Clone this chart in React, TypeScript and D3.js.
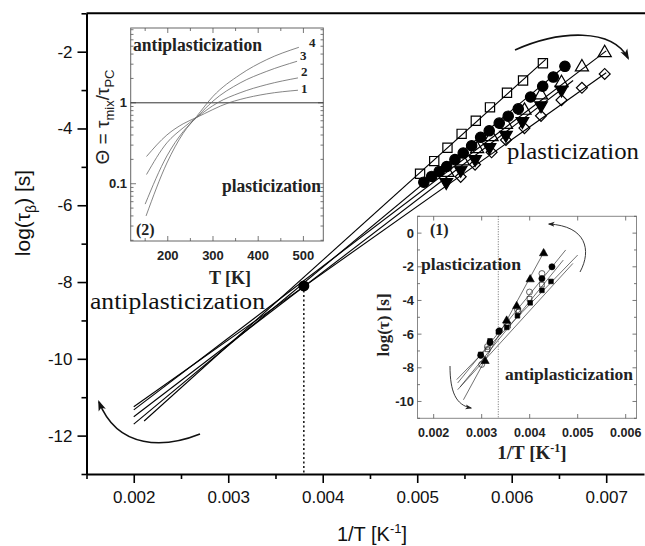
import React, { useEffect, useRef } from "react";
import * as d3 from "d3";

// ---------- main panel: log(tau_beta) vs 1/T ----------
const mainXTicks = [0.002, 0.003, 0.004, 0.005, 0.006, 0.007];
const mainXMinor = [0.0015, 0.0025, 0.0035, 0.0045, 0.0055, 0.0065];
const mainYTicks = [-2, -4, -6, -8, -10, -12];
const mainYMinor = [-1, -3, -5, -7, -9, -11, -13];

const sqX = [0.00503, 0.00518, 0.00532, 0.00547, 0.00562, 0.00577, 0.00595, 0.00612, 0.00633];
const sqY = [-5.18, -4.85, -4.5, -4.14, -3.8, -3.45, -3.07, -2.75, -2.3];

const circX = [0.00507, 0.005153, 0.005233, 0.005312, 0.005399, 0.005487, 0.005576, 0.005671,
  0.005762, 0.005868, 0.005963, 0.006069, 0.0062, 0.006328, 0.00644, 0.006563];
const circY = [-5.4, -5.25, -5.12, -4.99, -4.81, -4.64, -4.45, -4.23, -4.06, -3.86, -3.68, -3.49,
  -3.18, -2.9, -2.66, -2.38];

const triX = [0.00532, 0.005482, 0.005634, 0.005787, 0.005939, 0.006135, 0.00631, 0.006527, 0.006743, 0.006984];
const triY = [-5.15, -4.85, -4.53, -4.22, -3.9, -3.53, -3.13, -2.81, -2.4, -2.03];

const dtriX = [0.005307, 0.00546, 0.005612, 0.005765, 0.005939, 0.006113, 0.00631, 0.006527];
const dtriY = [-5.4, -5.08, -4.8, -4.49, -4.17, -3.81, -3.4, -2.99];

const diaX = [0.00546, 0.005612, 0.005787, 0.005939, 0.006135, 0.00631, 0.006527, 0.006743, 0.006984];
const diaY = [-5.26, -4.94, -4.62, -4.3, -3.99, -3.67, -3.26, -2.94, -2.58];

// fitted straight lines (squares, circles, up-tri, down-tri, diamonds)
const fitX0 = [0.00211, 0.002, 0.002, 0.002, 0.002];
const fitY0 = [-11.62, -11.7, -11.33, -11.51, -11.25];
const fitX1 = [0.00636, 0.0066, 0.007, 0.00665, 0.007];
const fitY1 = [-2.2, -2.3, -1.98, -2.75, -2.55];

const crossX = 0.0038;
const crossY = -8.1;

// ---------- inset (2): Theta vs T ----------
const thXTicks = [200, 300, 400, 500];
const thXMinor = [150, 250, 350, 450];
const thYTicks = [0.1, 1];
const thYMinor = [0.02, 0.03, 0.04, 0.05, 0.06, 0.07, 0.08, 0.09, 0.2, 0.3, 0.4, 0.5, 0.6, 0.7, 0.8, 0.9, 2, 3, 4, 5, 6, 7, 8];
const thCurveT = [
  [153, 198, 234, 264, 335, 360, 419, 488],
  [153, 198, 234, 264, 310, 360, 419, 488],
  [150, 198, 234, 264, 300, 360, 419, 486],
  [152, 198, 234, 264, 300, 360, 419, 490],
];
const thCurveV = [
  [0.217, 0.4, 0.55, 0.66, 1.0, 1.1, 1.29, 1.43],
  [0.13, 0.32, 0.49, 0.66, 1.0, 1.33, 1.68, 2.03],
  [0.056, 0.22, 0.44, 0.66, 1.05, 1.76, 2.45, 3.26],
  [0.04, 0.18, 0.42, 0.68, 1.2, 2.23, 3.42, 4.85],
];
const thCurveNames = ["1", "2", "3", "4"];

// ---------- inset (1): log(tau) vs 1/T ----------
const i1XTicks = [0.002, 0.003, 0.004, 0.005, 0.006];
const i1YTicks = [0, -2, -4, -6, -8, -10];
const i1YMinor = [1, -1, -3, -5, -7, -9, -11];
const i1LineX0 = [0.00262, 0.00255, 0.0025, 0.00248, 0.0025];
const i1LineY0 = [-9.9, -9.14, -8.9, -8.7, -9.3];
const i1LineX1 = [0.00432, 0.0047, 0.00475, 0.005, 0.0049];
const i1LineY1 = [-1.0, -1.6, -1.0, -1.3, -1.8];
const i1TriX = [0.00307, 0.00352, 0.00373, 0.00401, 0.00429];
const i1TriY = [-7.6, -5.2, -4.34, -2.75, -1.2];
const i1OcX = [0.003, 0.00312, 0.00352, 0.003745, 0.003996, 0.004255];
const i1OcY = [-7.8, -6.74, -5.34, -4.55, -3.5, -2.4];
const i1FcX = [0.00298, 0.003174, 0.003368, 0.004255, 0.004464];
const i1FcY = [-7.26, -6.5, -5.8, -2.7, -2.0];
const i1FsX = [0.00298, 0.003174, 0.003347, 0.003523, 0.003745, 0.00401, 0.004255, 0.004444];
const i1FsY = [-7.2, -6.4, -5.87, -5.6, -4.91, -4.14, -3.4, -2.87];
const i1OsX = [0.00312, 0.00355, 0.003766, 0.003996, 0.004255];
const i1OsY = [-6.9, -5.5, -4.67, -3.9, -3.06];
const i1Divider = 0.003346;

const SANS = "'Liberation Sans', Arial, sans-serif";
const SERIF = "'Liberation Serif', 'Times New Roman', serif";

function addSeries(g, xs, ys, sx, sy, type, size, filled, rot = 0, sw = 1.2) {
  g.selectAll(null)
    .data(xs.map((v, i) => [v, ys[i]]))
    .enter()
    .append("path")
    .attr("d", d3.symbol().type(type).size(size))
    .attr("transform", (d) => `translate(${sx(d[0])},${sy(d[1])}) rotate(${rot})`)
    .attr("fill", filled ? "#000" : "none")
    .attr("stroke", "#000")
    .attr("stroke-width", sw);
}

function addLines(g, x0, y0, x1, y1, sx, sy, sw, color) {
  g.selectAll(null)
    .data(x0.map((v, i) => [v, y0[i], x1[i], y1[i]]))
    .enter()
    .append("line")
    .attr("x1", (d) => sx(d[0]))
    .attr("y1", (d) => sy(d[1]))
    .attr("x2", (d) => sx(d[2]))
    .attr("y2", (d) => sy(d[3]))
    .attr("stroke", color)
    .attr("stroke-width", sw);
}

const App = () => {
  const ref = useRef(null);

  useEffect(() => {
    const svg = d3.select(ref.current);
    svg.selectAll("*").remove();

    const defs = svg.append("defs");
    defs
      .append("marker")
      .attr("id", "ah")
      .attr("viewBox", "0 0 10 10")
      .attr("refX", 8)
      .attr("refY", 5)
      .attr("markerWidth", 11)
      .attr("markerHeight", 11)
      .attr("markerUnits", "userSpaceOnUse")
      .attr("orient", "auto")
      .append("path")
      .attr("d", "M0,1.5 L10,5 L0,8.5 L2.5,5 Z")
      .attr("fill", "#111");
    defs
      .append("marker")
      .attr("id", "ahs")
      .attr("viewBox", "0 0 10 10")
      .attr("refX", 8)
      .attr("refY", 5)
      .attr("markerWidth", 7)
      .attr("markerHeight", 7)
      .attr("markerUnits", "userSpaceOnUse")
      .attr("orient", "auto")
      .append("path")
      .attr("d", "M0,1.5 L10,5 L0,8.5 L2.5,5 Z")
      .attr("fill", "#222");

    // ---------------- main panel ----------------
    const x = d3.scaleLinear().domain([0.0015, 0.0074]).range([86.5, 644]);
    const y = d3.scaleLinear().domain([-13, -1]).range([474, 13.3]);

    const styleAxis = (g, fs) => {
      g.select(".domain").attr("stroke", "#000").attr("stroke-width", 2);
      g.selectAll(".tick line").attr("stroke", "#000").attr("stroke-width", 1.6);
      g.selectAll("text").style("font-family", SANS).style("font-size", fs).attr("fill", "#111");
    };

    const gx = svg.append("g").attr("transform", "translate(0,474)");
    gx.call(d3.axisBottom(x).tickValues(mainXTicks).tickSize(9).tickSizeOuter(0).tickPadding(8).tickFormat(d3.format(".3f")));
    styleAxis(gx, "17px");
    const gxm = svg.append("g").attr("transform", "translate(0,474)");
    gxm.call(d3.axisBottom(x).tickValues(mainXMinor).tickSize(5).tickFormat(() => ""));
    gxm.select(".domain").remove();
    gxm.selectAll(".tick line").attr("stroke-width", 1.6);

    const gy = svg.append("g").attr("transform", "translate(86.5,0)");
    gy.call(d3.axisLeft(y).tickValues(mainYTicks).tickSize(9).tickSizeOuter(0).tickPadding(5).tickFormat((d) => `${d}`));
    styleAxis(gy, "17px");
    const gym = svg.append("g").attr("transform", "translate(86.5,0)");
    gym.call(d3.axisLeft(y).tickValues(mainYMinor).tickSize(5).tickFormat(() => ""));
    gym.select(".domain").remove();
    gym.selectAll(".tick line").attr("stroke-width", 1.6);

    // top border (frame is cut at right edge)
    svg.append("line").attr("x1", 86.5).attr("x2", 645).attr("y1", 13.3).attr("y2", 13.3)
      .attr("stroke", "#000").attr("stroke-width", 2);

    // axis titles
    const xt = svg.append("text").attr("x", 372).attr("y", 541).attr("text-anchor", "middle")
      .style("font-family", SANS).style("font-size", "20px").attr("fill", "#111");
    xt.append("tspan").text("1/T [K");
    xt.append("tspan").attr("dy", -8).style("font-size", "13px").text("-1");
    xt.append("tspan").attr("dy", 8).text("]");

    const yt = svg.append("text").attr("transform", "translate(30,213) rotate(-90)").attr("text-anchor", "middle")
      .style("font-family", SANS).style("font-size", "21px").attr("fill", "#111");
    yt.append("tspan").text("log(τ");
    yt.append("tspan").attr("dy", 6).style("font-size", "14px").text("β");
    yt.append("tspan").attr("dy", -6).text(") [s]");

    // dotted guide
    svg.append("line").attr("x1", x(crossX)).attr("x2", x(crossX)).attr("y1", y(crossY)).attr("y2", 474)
      .attr("stroke", "#111").attr("stroke-width", 1.5).attr("stroke-dasharray", "2,2.5");

    const gm = svg.append("g");
    addLines(gm, fitX0, fitY0, fitX1, fitY1, x, y, 1.1, "#000");
    addSeries(gm, sqX, sqY, x, y, d3.symbolSquare, 85, false);
    addSeries(gm, circX, circY, x, y, d3.symbolCircle, 85, true);
    addSeries(gm, triX, triY, x, y, d3.symbolTriangle, 75, false);
    addSeries(gm, dtriX, dtriY, x, y, d3.symbolTriangle, 70, true, 180);
    addSeries(gm, diaX, diaY, x, y, d3.symbolSquare, 60, false, 45);
    gm.append("circle").attr("cx", x(crossX)).attr("cy", y(crossY)).attr("r", 5.5).attr("fill", "#000");

    // arrows
    svg.append("path").attr("d", "M515,50 C560,30 612,28 628,58").attr("fill", "none")
      .attr("stroke", "#111").attr("stroke-width", 1.6).attr("marker-end", "url(#ah)");
    svg.append("path").attr("d", "M200,434 C165,448 118,450 99,402").attr("fill", "none")
      .attr("stroke", "#111").attr("stroke-width", 1.6).attr("marker-end", "url(#ah)");

    svg.append("text").attr("x", 507).attr("y", 159).attr("textLength", 132).attr("lengthAdjust", "spacingAndGlyphs")
      .style("font-family", SERIF).style("font-size", "24px").attr("fill", "#111").text("plasticization");
    svg.append("text").attr("x", 90).attr("y", 309).attr("textLength", 175).attr("lengthAdjust", "spacingAndGlyphs")
      .style("font-family", SERIF).style("font-size", "24px").attr("fill", "#111").text("antiplasticization");

    // ---------------- inset (2) ----------------
    const tx = d3.scaleLinear().domain([118, 544]).range([130.7, 323.3]);
    const ty = d3.scaleLog().domain([0.0196, 8.4]).range([241, 28]);
    const g2 = svg.append("g");
    g2.append("rect").attr("x", 130.7).attr("y", 28).attr("width", 323.3 - 130.7).attr("height", 241 - 28)
      .attr("fill", "#fff").attr("stroke", "#666").attr("stroke-width", 1);
    const tick = (g, x1, y1, x2, y2) =>
      g.append("line").attr("x1", x1).attr("y1", y1).attr("x2", x2).attr("y2", y2).attr("stroke", "#555").attr("stroke-width", 0.8);
    thXTicks.forEach((t) => { tick(g2, tx(t), 241, tx(t), 236); tick(g2, tx(t), 28, tx(t), 33); });
    thXMinor.forEach((t) => { tick(g2, tx(t), 241, tx(t), 238); tick(g2, tx(t), 28, tx(t), 31); });
    thYTicks.forEach((v) => { tick(g2, 130.7, ty(v), 136, ty(v)); tick(g2, 323.3, ty(v), 318, ty(v)); });
    thYMinor.forEach((v) => { tick(g2, 130.7, ty(v), 133.5, ty(v)); tick(g2, 323.3, ty(v), 320.5, ty(v)); });
    g2.selectAll(null).data(thXTicks).enter().append("text")
      .attr("x", (d) => tx(d)).attr("y", 260).attr("text-anchor", "middle")
      .style("font-family", SANS).style("font-size", "13px").style("font-weight", "bold").attr("fill", "#222").text((d) => d);
    g2.selectAll(null).data(thYTicks).enter().append("text")
      .attr("x", 127).attr("y", (d) => ty(d) + 4.5).attr("text-anchor", "end")
      .style("font-family", SANS).style("font-size", "13px").style("font-weight", "bold").attr("fill", "#222").text((d) => d);
    g2.append("text").attr("x", 230).attr("y", 284).attr("text-anchor", "middle")
      .style("font-family", SERIF).style("font-size", "18px").style("font-weight", "bold").attr("fill", "#222").text("T [K]");
    const t2 = g2.append("text").attr("transform", "translate(109,117) rotate(-90)").attr("text-anchor", "middle")
      .style("font-family", SANS).style("font-size", "19px").attr("fill", "#222");
    t2.append("tspan").text("Θ = τ");
    t2.append("tspan").attr("dy", 5).style("font-size", "13px").text("mix");
    t2.append("tspan").attr("dy", -5).text("/τ");
    t2.append("tspan").attr("dy", 5).style("font-size", "13px").text("PC");

    g2.append("line").attr("x1", 130.7).attr("x2", 323.3).attr("y1", ty(1)).attr("y2", ty(1))
      .attr("stroke", "#333").attr("stroke-width", 1);
    const thLine = d3.line().x((d) => tx(d[0])).y((d) => ty(d[1])).curve(d3.curveMonotoneX);
    const labDx = [3, 3, 3, 10];
    const labDy = [2.5, -1.5, -0.8, -0.8];
    thCurveT.forEach((ts, k) => {
      const pts = ts.map((t, i) => [t, thCurveV[k][i]]);
      g2.append("path").attr("d", thLine(pts)).attr("fill", "none").attr("stroke", "#666").attr("stroke-width", 0.8);
      const last = pts[pts.length - 1];
      g2.append("text").attr("x", tx(last[0]) + labDx[k]).attr("y", ty(last[1]) + labDy[k])
        .style("font-family", SERIF).style("font-size", "13px").style("font-weight", "bold").attr("fill", "#222")
        .text(thCurveNames[k]);
    });
    g2.append("text").attr("x", 133).attr("y", 51).attr("textLength", 129).attr("lengthAdjust", "spacingAndGlyphs")
      .style("font-family", SERIF).style("font-size", "18px").style("font-weight", "bold").attr("fill", "#222").text("antiplasticization");
    g2.append("text").attr("x", 222).attr("y", 192).attr("textLength", 99).attr("lengthAdjust", "spacingAndGlyphs")
      .style("font-family", SERIF).style("font-size", "18px").style("font-weight", "bold").attr("fill", "#222").text("plasticization");
    g2.append("text").attr("x", 136).attr("y", 235)
      .style("font-family", SERIF).style("font-size", "16px").style("font-weight", "bold").attr("fill", "#222").text("(2)");

    // ---------------- inset (1) ----------------
    const ix = d3.scaleLinear().domain([0.001663, 0.006225]).range([417.5, 636.5]);
    const iy = d3.scaleLinear().domain([-11, 1]).range([418.3, 216.3]);
    const g1 = svg.append("g");
    g1.append("rect").attr("x", 417.5).attr("y", 216.3).attr("width", 636.5 - 417.5).attr("height", 418.3 - 216.3)
      .attr("fill", "#fff").attr("stroke", "#888").attr("stroke-width", 1);
    i1XTicks.forEach((v) => { tick(g1, ix(v), 418.3, ix(v), 414); tick(g1, ix(v), 216.3, ix(v), 220.5); });
    i1YTicks.forEach((v) => { tick(g1, 417.5, iy(v), 421.5, iy(v)); tick(g1, 636.5, iy(v), 632.5, iy(v)); });
    i1YMinor.forEach((v) => { tick(g1, 417.5, iy(v), 420, iy(v)); tick(g1, 636.5, iy(v), 634, iy(v)); });
    g1.selectAll(null).data(i1XTicks).enter().append("text")
      .attr("x", (d) => ix(d)).attr("y", 437).attr("text-anchor", "middle")
      .style("font-family", SANS).style("font-size", "12.5px").style("font-weight", "bold").attr("fill", "#222")
      .text((d) => d3.format(".3f")(d));
    g1.selectAll(null).data(i1YTicks).enter().append("text")
      .attr("x", 414).attr("y", (d) => iy(d) + 4.5).attr("text-anchor", "end")
      .style("font-family", SANS).style("font-size", "13px").style("font-weight", "bold").attr("fill", "#222")
      .text((d) => `${d}`);
    const t1x = g1.append("text").attr("x", 532).attr("y", 459).attr("text-anchor", "middle")
      .style("font-family", SERIF).style("font-size", "19px").style("font-weight", "bold").attr("fill", "#222");
    t1x.append("tspan").text("1/T [K");
    t1x.append("tspan").attr("dy", -7).style("font-size", "12px").text("-1");
    t1x.append("tspan").attr("dy", 7).text("]");
    g1.append("text").attr("transform", "translate(389,325) rotate(-90)").attr("text-anchor", "middle")
      .style("font-family", SERIF).style("font-size", "17px").style("font-weight", "bold").attr("fill", "#222")
      .text("log(τ) [s]");

    g1.append("line").attr("x1", ix(i1Divider)).attr("x2", ix(i1Divider)).attr("y1", 216.3).attr("y2", 418.3)
      .attr("stroke", "#444").attr("stroke-width", 0.8).attr("stroke-dasharray", "1,1.5");
    addLines(g1, i1LineX0, i1LineY0, i1LineX1, i1LineY1, ix, iy, 0.7, "#333");
    addSeries(g1, i1FsX, i1FsY, ix, iy, d3.symbolSquare, 22, true, 0, 0.6);
    addSeries(g1, i1OsX, i1OsY, ix, iy, d3.symbolSquare, 22, false, 0, 0.6);
    addSeries(g1, i1OcX, i1OcY, ix, iy, d3.symbolCircle, 28, false, 0, 0.6);
    addSeries(g1, i1FcX, i1FcY, ix, iy, d3.symbolCircle, 30, true, 0, 0.6);
    addSeries(g1, i1TriX, i1TriY, ix, iy, d3.symbolTriangle, 30, true, 0, 0.6);

    g1.append("path").attr("d", "M580,272 C592,250 586,226 549,224").attr("fill", "none")
      .attr("stroke", "#222").attr("stroke-width", 0.9).attr("marker-end", "url(#ahs)");
    g1.append("path").attr("d", "M450,366 C450,392 456,405 471,408").attr("fill", "none")
      .attr("stroke", "#222").attr("stroke-width", 0.9).attr("marker-end", "url(#ahs)");

    g1.append("text").attr("x", 421).attr("y", 270).attr("textLength", 100).attr("lengthAdjust", "spacingAndGlyphs")
      .style("font-family", SERIF).style("font-size", "17px").style("font-weight", "bold").attr("fill", "#222").text("plasticization");
    g1.append("text").attr("x", 505).attr("y", 380).attr("textLength", 128).attr("lengthAdjust", "spacingAndGlyphs")
      .style("font-family", SERIF).style("font-size", "17px").style("font-weight", "bold").attr("fill", "#222").text("antiplasticization");
    g1.append("text").attr("x", 430).attr("y", 235)
      .style("font-family", SERIF).style("font-size", "16px").style("font-weight", "bold").attr("fill", "#222").text("(1)");
  }, []);

  return (
    <svg
      ref={ref}
      width={645}
      height={546}
      style={{ position: "absolute", left: 0, top: 0, background: "#fff" }}
    />
  );
};

export default App;
